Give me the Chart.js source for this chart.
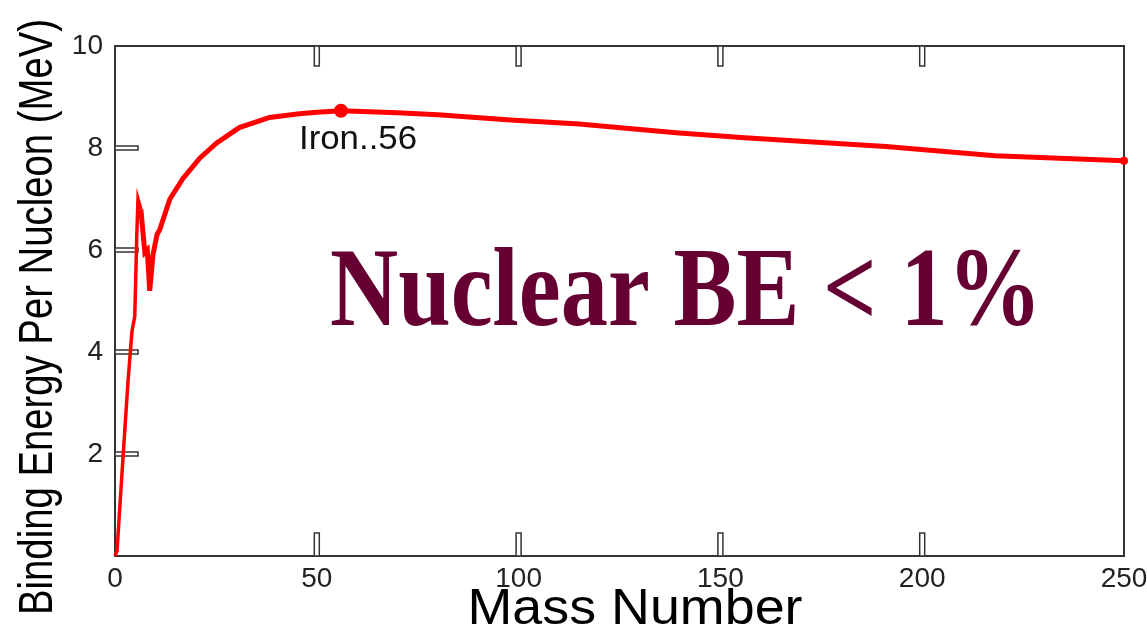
<!DOCTYPE html>
<html>
<head>
<meta charset="utf-8">
<script src="https://cdn.jsdelivr.net/npm/chart.js@4.4.0/dist/chart.umd.min.js"></script>
<style>
  html, body { margin: 0; padding: 0; background: #fff; }
  #wrap { width: 1147px; height: 634px; }
</style>
</head>
<body>
<div id="wrap"><canvas id="be-chart" width="1147" height="634"></canvas></div>
<script>
// values
var massNumber = [0, 0.5, 2, 3.2, 4.2, 4.9, 5.4, 5.7, 6.4, 7.4, 8.0, 8.6, 9.4, 10.4, 11.1, 13.6, 16.8, 21, 25.2, 30.8, 38.3, 45.7, 50, 56, 70, 80, 98, 115, 139, 156, 191, 218, 250];
var bindingEnergy = [0, 0.1, 1.95, 3.4, 4.4, 4.7, 6.3, 7.0, 6.8, 5.95, 6.0, 5.2, 5.9, 6.3, 6.4, 7.0, 7.4, 7.8, 8.1, 8.4, 8.6, 8.67, 8.7, 8.73, 8.69, 8.65, 8.55, 8.47, 8.3, 8.2, 8.03, 7.85, 7.75];
var xTicks = [0, 50, 100, 150, 200, 250];
var yTicks = [2, 4, 6, 8, 10];
var ironLabel = "Iron..56";
var bigNote = "Nuclear BE < 1%";

var points = massNumber.map(function(a, i) { return { x: a, y: bindingEnergy[i] }; });

function notch(ctx, x, y, w, h) {
  // small outlined slot, like the ticks in the picture
  ctx.beginPath();
  ctx.rect(x, y, w, h);
  ctx.fillStyle = "#fff";
  ctx.fill();
  ctx.stroke();
}

var framePlugin = {
  id: "frame",
  beforeDatasetsDraw: function(chart) {
    var ctx = chart.ctx, a = chart.chartArea;
    var xs = chart.scales.x, ys = chart.scales.y;
    ctx.save();
    ctx.strokeStyle = "#333";
    ctx.lineWidth = 2;
    ctx.strokeRect(a.left, a.top, a.right - a.left, a.bottom - a.top);
    ctx.lineWidth = 1.5;
    xTicks.slice(1, -1).forEach(function(v) {
      var px = xs.getPixelForValue(v);
      notch(ctx, px - 2.5, a.top, 5, 20);
      notch(ctx, px - 2.5, a.bottom - 23, 5, 23);
    });
    yTicks.slice(0, -1).forEach(function(v) {
      var py = ys.getPixelForValue(v);
      notch(ctx, a.left, py - 2, 23, 4);
    });
    ctx.restore();
  },
  afterDraw: function(chart) {
    var ctx = chart.ctx;
    ctx.save();
    // axis titles
    ctx.fillStyle = "#000";
    ctx.textAlign = "center";
    ctx.textBaseline = "middle";
    ctx.font = "50px 'Liberation Sans', Arial, sans-serif";
    var w = ctx.measureText("Mass Number").width;
    ctx.save();
    ctx.translate(635, 610);
    ctx.scale(335 / w, 1);
    ctx.fillText("Mass Number", 0, 0);
    ctx.restore();

    ctx.font = "49px 'Liberation Sans', Arial, sans-serif";
    var t = "Binding Energy Per Nucleon (MeV)";
    w = ctx.measureText(t).width;
    ctx.save();
    ctx.translate(38, 317);
    ctx.rotate(-Math.PI / 2);
    ctx.scale(596 / w, 1);
    ctx.fillText(t, 0, 0);
    ctx.restore();

    // Iron label
    ctx.fillStyle = "#111";
    ctx.textAlign = "left";
    ctx.font = "33px 'Liberation Sans', Arial, sans-serif";
    w = ctx.measureText(ironLabel).width;
    ctx.save();
    ctx.translate(299, 140);
    ctx.scale(118 / w, 1);
    ctx.fillText(ironLabel, 0, 0);
    ctx.restore();

    // big note
    ctx.fillStyle = "#660033";
    ctx.textBaseline = "alphabetic";
    ctx.font = "bold 112px 'Liberation Serif', 'Times New Roman', serif";
    w = ctx.measureText(bigNote).width;
    ctx.save();
    ctx.translate(330, 325);
    ctx.scale(712 / w, 1);
    ctx.fillText(bigNote, 0, 0);
    ctx.restore();
    ctx.restore();
  }
};

new Chart(document.getElementById("be-chart"), {
  type: "line",
  data: {
    datasets: [
      {
        label: "Binding energy",
        data: points,
        borderColor: "#ff0000",
        backgroundColor: "#ff0000",
        borderWidth: 5,
        tension: 0,
        fill: false,
        pointRadius: function(c) {
          var v = c.raw && c.raw.x;
          return v === 56 ? 7 : (v === 250 ? 4 : 0);
        },
        pointBorderWidth: 0,
        segment: {
          borderWidth: function(c) { return c.p0.parsed.x < 6 ? 3.5 : 5; }
        }
      }
    ]
  },
  options: {
    responsive: false,
    animation: false,
    clip: false,
    layout: { padding: { top: 46, right: 23, left: 0, bottom: 0 } },
    plugins: { legend: { display: false }, tooltip: { enabled: false } },
    scales: {
      x: {
        type: "linear",
        min: 0,
        max: 250,
        afterFit: function(s) { s.height = 78; s.paddingLeft = 0; s.paddingRight = 0; },
        afterBuildTicks: function(s) { s.ticks = xTicks.map(function(v) { return { value: v }; }); },
        grid: { display: false, tickLength: 0 },
        border: { display: false },
        ticks: {
          color: "#222",
          padding: 6,
          maxRotation: 0,
          font: { family: "'Liberation Sans', Arial, sans-serif", size: 28 }
        }
      },
      y: {
        type: "linear",
        min: 0,
        max: 10,
        afterFit: function(s) { s.width = 115; s.paddingTop = 0; s.paddingBottom = 0; },
        afterBuildTicks: function(s) { s.ticks = yTicks.map(function(v) { return { value: v }; }); },
        grid: { display: false, tickLength: 0 },
        border: { display: false },
        ticks: {
          color: "#222",
          padding: 12,
          font: { family: "'Liberation Sans', Arial, sans-serif", size: 28 }
        }
      }
    }
  },
  plugins: [framePlugin]
});
</script>
</body>
</html>
